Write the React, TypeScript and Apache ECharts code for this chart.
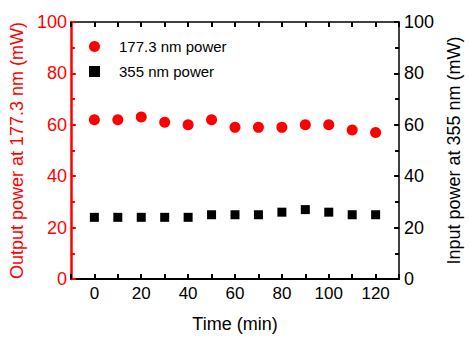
import React, { useEffect, useRef } from "react";
import * as echarts from "echarts";

const times = [0, 10, 20, 30, 40, 50, 60, 70, 80, 90, 100, 110, 120];
const power177 = [62, 62, 63, 61, 60, 62, 59, 59, 59, 60, 60, 58, 57];
const power355 = [24, 24, 24, 24, 24, 25, 25, 25, 26, 27, 26, 25, 25];
const xTickLabels = [0, 20, 40, 60, 80, 100, 120];
const seriesNames = ["177.3 nm power", "355 nm power"];

const FONT = "'Liberation Sans', Arial, sans-serif";

export default function App() {
  const ref = useRef<HTMLDivElement>(null);
  useEffect(() => {
    document.body.style.margin = "0";
    const chart = echarts.init(ref.current!, null, { renderer: "svg" });
    const xCommon = {
      type: "value",
      min: -10,
      max: 130,
      interval: 10,
      splitLine: { show: false },
      axisTick: { show: true, inside: true, length: 5, lineStyle: { color: "#000", width: 2 } },
    };
    chart.setOption({
      animation: false,
      textStyle: { fontFamily: FONT },
      grid: { left: 66, right: 58, top: 22, bottom: 51, containLabel: false },
      legend: {
        orient: "vertical",
        left: 84,
        top: 34,
        itemWidth: 11,
        itemHeight: 11,
        itemGap: 10,
        textStyle: { fontSize: 15, color: "#000", fontFamily: FONT, padding: [0, 0, 0, 14] },
        data: [
          { name: seriesNames[0], icon: "circle" },
          { name: seriesNames[1], icon: "rect" },
        ],
      },
      xAxis: [
        {
          ...xCommon,
          position: "bottom",
          name: "Time (min)",
          nameLocation: "middle",
          nameGap: 36,
          nameTextStyle: { fontSize: 18, color: "#000", fontFamily: FONT },
          axisLine: { show: true, onZero: false, lineStyle: { color: "#000", width: 2 } },
          axisLabel: {
            fontSize: 17,
            color: "#000",
            margin: 6,
            fontFamily: FONT,
            formatter: (v: number) => (xTickLabels.includes(v) ? String(v) : ""),
          },
        },
        {
          ...xCommon,
          position: "top",
          axisLine: { show: true, onZero: false, lineStyle: { color: "#000", width: 1.5 } },
          axisLabel: { show: false },
        },
      ],
      yAxis: [
        {
          type: "value",
          position: "left",
          min: 0,
          max: 100,
          interval: 20,
          name: "Output power at 177.3 nm (mW)",
          nameLocation: "middle",
          nameGap: 35,
          nameTextStyle: { fontSize: 18, color: "#ff0000", fontFamily: FONT },
          splitLine: { show: false },
          axisLine: { show: true, onZero: false, lineStyle: { color: "#ff0000", width: 2.5 } },
          axisTick: { show: true, inside: true, length: 5, lineStyle: { color: "#ff0000", width: 2 } },
          minorTick: { show: true, splitNumber: 2, length: 4, lineStyle: { color: "#ff0000", width: 2 } },
          axisLabel: { fontSize: 18, color: "#ff0000", margin: 4, fontFamily: FONT },
        },
        {
          type: "value",
          position: "right",
          min: 0,
          max: 100,
          interval: 20,
          name: "Input power at 355 nm (mW)",
          nameLocation: "middle",
          nameGap: 45,
          nameTextStyle: { fontSize: 18, color: "#000", fontFamily: FONT },
          splitLine: { show: false },
          axisLine: { show: true, onZero: false, lineStyle: { color: "#000", width: 1.5 } },
          axisTick: { show: true, inside: true, length: 5, lineStyle: { color: "#000", width: 2 } },
          minorTick: { show: true, splitNumber: 2, length: 4, lineStyle: { color: "#000", width: 2 } },
          axisLabel: { fontSize: 18, color: "#000", margin: 5, fontFamily: FONT },
        },
      ],
      series: [
        {
          name: seriesNames[0],
          type: "scatter",
          xAxisIndex: 0,
          yAxisIndex: 0,
          symbol: "circle",
          symbolSize: 11,
          itemStyle: { color: "#ff0000", opacity: 1 },
          data: times.map((t, i) => [t, power177[i]]),
        },
        {
          name: seriesNames[1],
          type: "scatter",
          xAxisIndex: 0,
          yAxisIndex: 1,
          symbol: "rect",
          symbolSize: 9,
          itemStyle: { color: "#000", opacity: 1 },
          data: times.map((t, i) => [t, power355[i]]),
        },
      ],
    });
    return () => chart.dispose();
  }, []);
  return <div ref={ref} style={{ width: 471, height: 338, background: "#fff" }} />;
}
